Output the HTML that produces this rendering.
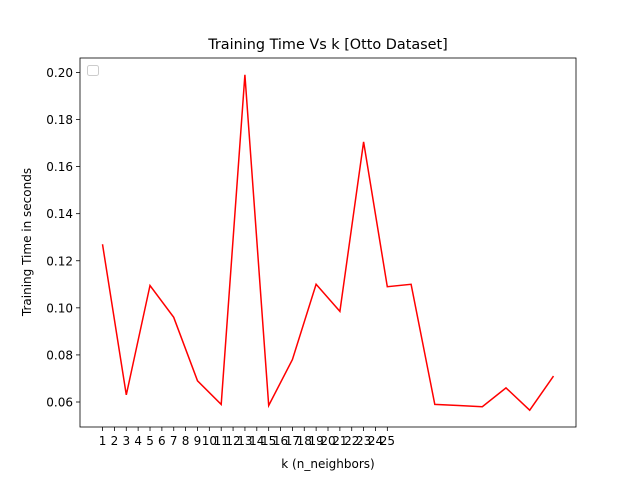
<!DOCTYPE html>
<html><head><meta charset="utf-8"><style>
body{margin:0;background:#fff;font-family:"Liberation Sans","DejaVu Sans",sans-serif;}
svg text{font-family:"DejaVu Sans","Liberation Sans",sans-serif;}
</style></head><body>
<svg id="c" width="640" height="480" xmlns="http://www.w3.org/2000/svg"></svg>
<script>
const kValues=[1,3,5,7,9,11,13,15,17,19,21,23,25,27,29,31,33,35,37,39];
const trainTimes=[0.127,0.063,0.1095,0.096,0.069,0.059,0.199,0.0585,0.078,0.110,0.0985,0.1705,0.109,0.110,0.059,0.0585,0.058,0.066,0.0565,0.071];
const xTicks=[1,2,3,4,5,6,7,8,9,10,11,12,13,14,15,16,17,18,19,20,21,22,23,24,25];
const yTicks=[0.06,0.08,0.10,0.12,0.14,0.16,0.18,0.20];
const L=80,R=576,T=58,B=427;
const xmin=-0.9,xmax=40.9,ymin=0.04938,ymax=0.20613;
const sx=v=>L+(v-xmin)/(xmax-xmin)*(R-L);
const sy=v=>B-(v-ymin)/(ymax-ymin)*(B-T);
const svg=document.getElementById('c');
const NS='http://www.w3.org/2000/svg';
function mk(t,a,txt){const e=document.createElementNS(NS,t);for(const k in a)e.setAttribute(k,a[k]);if(txt!==undefined)e.textContent=txt;svg.appendChild(e);return e;}
let e;
e=mk('text',{x:328,y:49,'text-anchor':'middle','font-size':14.4},'Training Time Vs k [Otto Dataset]');


xTicks.forEach(t=>{const x=sx(t);
e=mk('line',{x1:x,x2:x,y1:B,y2:B+4,stroke:'#000','stroke-width':0.8});


e=mk('text',{x:x,y:B+18,'text-anchor':'middle','font-size':12},String(t));

});
yTicks.forEach(t=>{const y=sy(t);
e=mk('line',{x1:L-4,x2:L,y1:y,y2:y,stroke:'#000','stroke-width':0.8});


e=mk('text',{x:L-7,y:y+4.5,'text-anchor':'end','font-size':12},t.toFixed(2));

});
const pts=kValues.map((k,i)=>sx(k).toFixed(1)+','+sy(trainTimes[i]).toFixed(1)).join(' ');
e=mk('polyline',{points:pts,fill:'none',stroke:'#ff0000','stroke-width':1.5});


e=mk('rect',{x:L,y:T,width:R-L,height:B-T,fill:'none',stroke:'#000','stroke-width':0.8});


e=mk('rect',{x:87.5,y:65.5,width:11,height:10,rx:2,fill:'#fff',stroke:'#ccc','stroke-width':1});


e=mk('text',{x:328,y:468,'text-anchor':'middle','font-size':12},'k (n_neighbors)');


e=mk('text',{x:31,y:242,'text-anchor':'middle','font-size':12,transform:'rotate(-90 31 242)'},'Training Time in seconds');


</script>
</body></html>
